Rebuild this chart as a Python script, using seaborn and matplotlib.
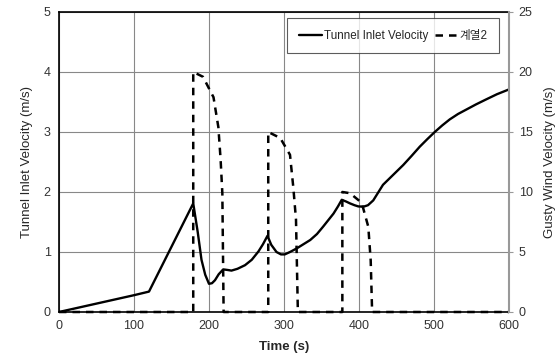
import matplotlib
matplotlib.use("Agg")
import matplotlib.pyplot as plt
import seaborn as sns
import pandas as pd

# tunnel inlet velocity (m/s), left axis
tunnel_t = [0, 100, 120, 179, 185, 190, 195, 200, 204, 208, 213, 219, 225, 230, 238, 248,
            257, 266, 272, 278, 283, 290, 296, 301, 308, 317, 326, 335, 344, 352, 359,
            366, 372, 377, 383, 388, 394, 399, 406, 412, 419, 426, 432, 441, 450, 459,
            470, 481, 491, 501, 511, 521, 532, 544, 556, 569, 584, 600]
tunnel_v = [0, 0.28, 0.34, 1.81, 1.33, 0.87, 0.62, 0.47, 0.48, 0.53, 0.63, 0.71, 0.70, 0.69, 0.72, 0.78,
            0.87, 1.01, 1.13, 1.27, 1.12, 1.00, 0.96, 0.96, 1.00, 1.06, 1.13, 1.20, 1.30, 1.42, 1.53,
            1.64, 1.76, 1.87, 1.84, 1.81, 1.78, 1.76, 1.755, 1.78, 1.86, 2.00, 2.12, 2.23, 2.34, 2.45,
            2.60, 2.755, 2.88, 3.00, 3.11, 3.21, 3.30, 3.38, 3.46, 3.54, 3.63, 3.71]

# gusty wind velocity (m/s), right axis
gust_t = [0, 179, 179, 192, 206, 212.5, 215.5, 217.8, 219.5, 219.5,
          279, 279, 295, 308, 312.4, 316, 318.5, 318.5,
          377.8, 377.8, 388, 403.6, 412.4, 415.6, 417.5, 417.5, 600]
gust_v = [0, 0, 20, 19.6, 17.9, 15.4, 12.7, 9.9, 0, 0,
          0, 15, 14.5, 13.1, 10.4, 7.7, 0, 0,
          0, 10, 9.9, 9.1, 7.1, 4.3, 0, 0, 0]

tunnel = pd.DataFrame({"Time": tunnel_t, "Velocity": tunnel_v})
gust = pd.DataFrame({"Time": gust_t, "Velocity": gust_v})

sns.set_style("white")
plt.rcParams["font.family"] = ["Liberation Sans", "Noto Sans CJK KR", "DejaVu Sans"]

fig = plt.figure(figsize=(5.58, 3.58), dpi=100)
ax = fig.add_axes([0.1057, 0.1285, 0.8065, 0.838])
ax2 = ax.twinx()

sns.lineplot(data=tunnel, x="Time", y="Velocity", estimator=None, sort=False,
             color="black", lw=1.7, ax=ax, label="Tunnel Inlet Velocity", legend=False)
sns.lineplot(data=gust, x="Time", y="Velocity", estimator=None, sort=False,
             color="black", lw=1.8, ax=ax2, label="계열2", legend=False)
ax.lines[0].set_solid_joinstyle("round")
ax2.lines[0].set_dashes((3.0, 2.4))
ax2.lines[0].set_clip_on(False)

ax.set_xlim(0, 600)
ax.set_ylim(0, 5)
ax2.set_ylim(0, 25)
ax.set_xticks(range(0, 601, 100))
ax.set_yticks(range(0, 6))
ax2.set_yticks(range(0, 26, 5))

ax.grid(True, color="#888888", lw=0.8)
ax.set_axisbelow(True)
for s in ["left", "bottom", "top"]:
    ax.spines[s].set_color("black")
    ax.spines[s].set_linewidth(1.2)
ax.spines["right"].set_visible(False)
for s in ["left", "bottom", "top"]:
    ax2.spines[s].set_visible(False)
ax2.spines["right"].set_color("#999999")
ax2.spines["right"].set_linewidth(1.5)

ax.tick_params(axis="both", length=0, labelsize=9, colors="#333333", pad=6)
ax2.tick_params(axis="y", length=3, color="#999999", labelsize=9, labelcolor="#333333", pad=4)

ax.set_xlabel("Time (s)", fontsize=9.5, fontweight="bold", labelpad=6)
ax.set_ylabel("Tunnel Inlet Velocity (m/s)", fontsize=9.5, labelpad=8)
ax2.set_ylabel("Gusty Wind Velocity (m/s)", fontsize=9.5, labelpad=8)

h1, l1 = ax.get_legend_handles_labels()
h2, l2 = ax2.get_legend_handles_labels()
leg = ax2.legend(h1 + h2, l1 + l2, ncol=2, loc="upper right", bbox_to_anchor=(0.978, 0.98),
                 fontsize=8.4, frameon=True, fancybox=False, edgecolor="#333333",
                 handlelength=2.0, handletextpad=0.1, columnspacing=0.6, borderpad=1.0,
                 borderaxespad=0)
leg.get_frame().set_linewidth(0.8)

fig.savefig("out.png", dpi=100)
